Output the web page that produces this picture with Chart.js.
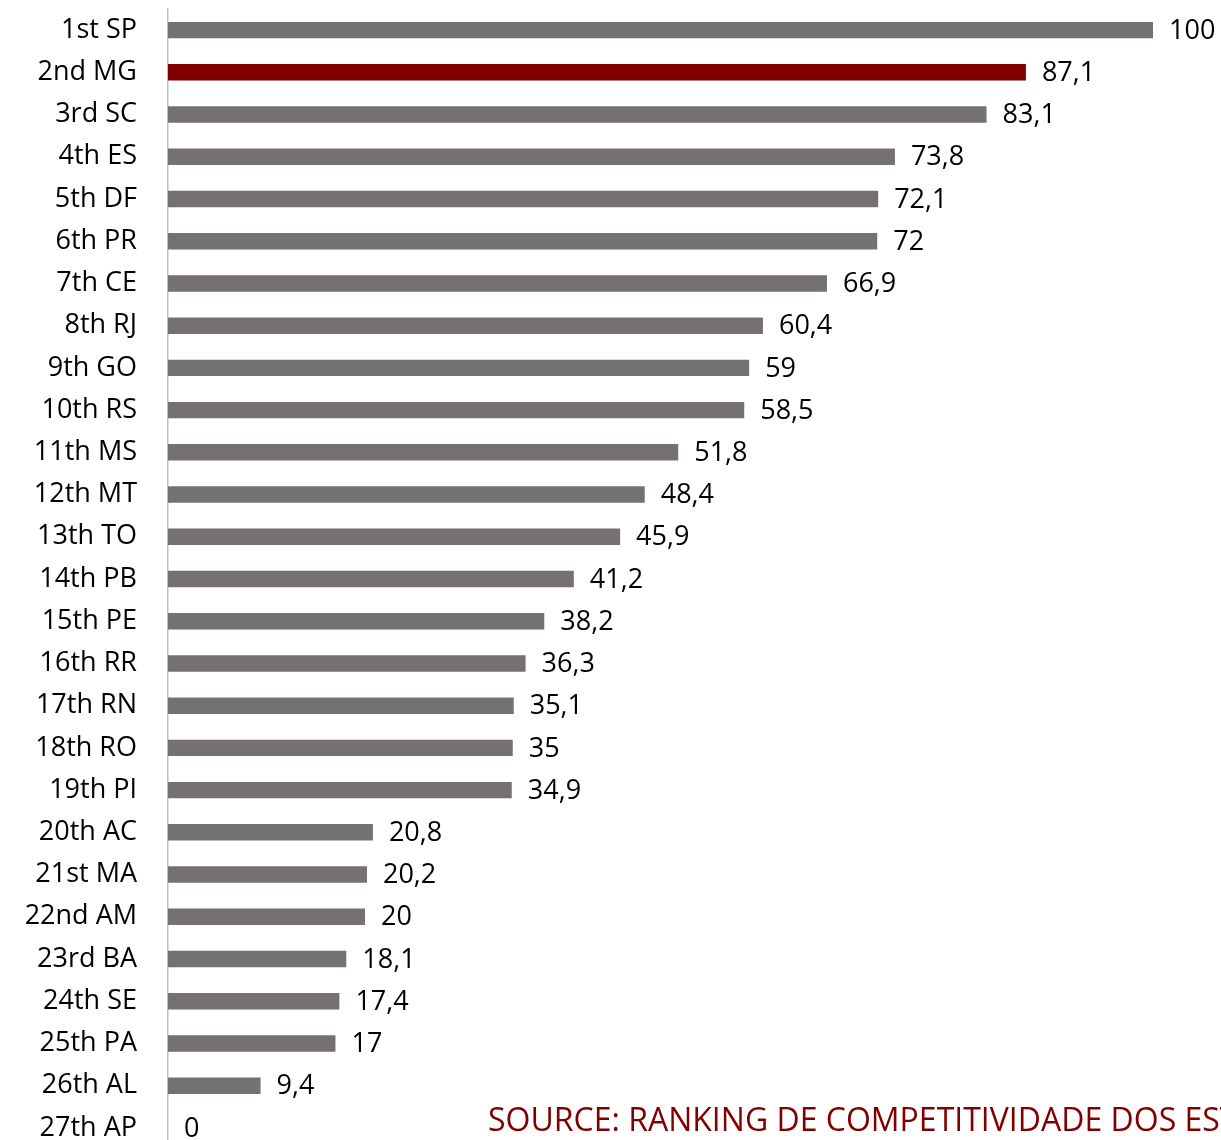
<!DOCTYPE html>
<html>
<head>
<meta charset="utf-8">
<script src="https://cdn.jsdelivr.net/npm/chart.js@4.4.0/dist/chart.umd.min.js"></script>
<style>
    html, body { margin: 0; padding: 0; background: #ffffff; overflow: hidden; }
    .wrap { position: relative; width: 1221px; height: 1140px; overflow: hidden; }
    .wrap canvas { position: absolute; left: 0; top: 0; }
    .source {
        position: absolute; left: 488px; top: 1097px;
        font-family: 'Open Sans', sans-serif; font-size: 32px;
        color: #800000; white-space: nowrap;
    }
</style>
</head>
<body>
<div class="wrap">
    <canvas id="rankChart" width="1221" height="1150"></canvas>
    <div class="source">SOURCE: RANKING DE COMPETITIVIDADE DOS ESTADOS</div>
</div>
<script>
// Ranking data
const states = [
    '1st SP', '2nd MG', '3rd SC', '4th ES', '5th DF', '6th PR', '7th CE', '8th RJ', '9th GO',
    '10th RS', '11th MS', '12th MT', '13th TO', '14th PB', '15th PE', '16th RR', '17th RN',
    '18th RO', '19th PI', '20th AC', '21st MA', '22nd AM', '23rd BA', '24th SE', '25th PA',
    '26th AL', '27th AP'
];
const scores = [
    100, 87.1, 83.1, 73.8, 72.1, 72, 66.9, 60.4, 59,
    58.5, 51.8, 48.4, 45.9, 41.2, 38.2, 36.3, 35.1,
    35, 34.9, 20.8, 20.2, 20, 18.1, 17.4, 17,
    9.4, 0
];
const highlight = '2nd MG';

const barColors = states.map(s => s === highlight ? '#800000' : '#767171');

// Value labels next to each bar (comma decimals)
const valueLabels = {
    id: 'valueLabels',
    afterDatasetsDraw(chart) {
        const ctx = chart.ctx;
        const meta = chart.getDatasetMeta(0);
        ctx.save();
        ctx.font = '27px "Open Sans"';
        ctx.fillStyle = '#000000';
        ctx.textAlign = 'left';
        ctx.textBaseline = 'middle';
        meta.data.forEach((bar, i) => {
            const txt = String(scores[i]).replace('.', ',');
            ctx.fillText(txt, bar.x + 16, bar.y + 1);
        });
        ctx.restore();
    }
};

new Chart(document.getElementById('rankChart'), {
    type: 'bar',
    data: {
        labels: states,
        datasets: [{
            data: scores,
            backgroundColor: barColors,
            borderWidth: 0,
            barPercentage: 0.39,
            categoryPercentage: 1
        }]
    },
    options: {
        indexAxis: 'y',
        responsive: false,
        animation: false,
        layout: { padding: { left: 0, right: 68, top: 9, bottom: 1 } },
        plugins: {
            legend: { display: false },
            tooltip: { enabled: false }
        },
        scales: {
            x: {
                display: false,
                min: 0,
                max: 100
            },
            y: {
                grid: { display: false, drawTicks: false },
                border: { display: true, color: '#bfbfbf', width: 1.5 },
                afterFit: scale => {
                    scale.width = 168;
                    scale.paddingTop = 0;   // tick padding would otherwise push the plot down
                    scale.paddingBottom = 0;
                },
                ticks: {
                    padding: 31,
                    color: '#000000',
                    font: { family: 'Open Sans', size: 27 }
                }
            }
        }
    },
    plugins: [valueLabels]
});
</script>
</body>
</html>
